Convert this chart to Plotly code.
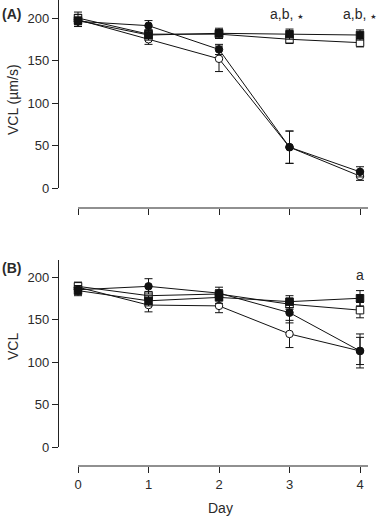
import plotly.graph_objects as go

days = [0, 1, 2, 3, 4]
x_ticks = ["0", "1", "2", "3", "4"]
y_ticks = [0, 50, 100, 150, 200]

# Panel A
a_sq_fill = [197, 180, 182, 181, 180]
a_sq_fill_err = [7, 6, 6, 6, 6]
a_sq_open = [200, 181, 181, 175, 171]
a_sq_open_err = [7, 5, 5, 5, 5]
a_ci_fill = [196, 191, 163, 48, 19]
a_ci_fill_err = [6, 6, 6, 19, 6]
a_ci_open = [198, 175, 152, 48, 14]
a_ci_open_err = [6, 6, 15, 19, 5]

# Panel B
b_sq_fill = [184, 172, 176, 171, 175]
b_sq_fill_err = [6, 6, 7, 7, 9]
b_sq_open = [189, 178, 180, 168, 161]
b_sq_open_err = [5, 5, 5, 6, 9]
b_ci_fill = [185, 189, 181, 158, 113]
b_ci_fill_err = [5, 9, 7, 12, 20]
b_ci_open = [188, 167, 166, 133, 113]
b_ci_open_err = [5, 8, 8, 16, 16]

W, H = 378, 517
FONT = "Liberation Sans, Arial, sans-serif"
TXT = "#2a2a2a"

def py(px):
    return 1 - px / H

def px_x(px):
    return px / W

fig = go.Figure()

def add_series(y, err, symbol, fill, xa, ya):
    fig.add_trace(go.Scatter(
        x=days, y=y, mode="lines+markers",
        line=dict(color="#111111", width=1),
        marker=dict(symbol=symbol, size=7.5, color=fill,
                    line=dict(color="#111111", width=1)),
        error_y=dict(type="data", array=err, visible=True,
                     color="#111111", thickness=1, width=4),
        xaxis=xa, yaxis=ya, showlegend=False, cliponaxis=False,
    ))

for (y, e, s, f) in [
    (a_ci_open, a_ci_open_err, "circle", "white"),
    (a_ci_fill, a_ci_fill_err, "circle", "#111111"),
    (a_sq_open, a_sq_open_err, "square", "white"),
    (a_sq_fill, a_sq_fill_err, "square", "#111111"),
]:
    add_series(y, e, s, f, "x", "y")

for (y, e, s, f) in [
    (b_ci_open, b_ci_open_err, "circle", "white"),
    (b_sq_open, b_sq_open_err, "square", "white"),
    (b_sq_fill, b_sq_fill_err, "square", "#111111"),
    (b_ci_fill, b_ci_fill_err, "circle", "#111111"),
]:
    add_series(y, e, s, f, "x2", "y2")

# geometry
x_left_px, x_right_px = 58, 372
day0_px, day_step = 78, 70.5
x_range = [(x_left_px - day0_px) / day_step, (x_right_px - day0_px) / day_step]
x_line_end = (368 - day0_px) / day_step

axis_common = dict(
    showgrid=False, zeroline=False, ticks="outside", ticklen=6,
    tickwidth=1, tickcolor="#222222", linecolor="#222222", linewidth=1.2,
    tickfont=dict(family=FONT, size=13, color=TXT), automargin=False,
)

fig.update_layout(
    width=W, height=H,
    margin=dict(l=0, r=0, t=0, b=0, pad=0, autoexpand=False),
    paper_bgcolor="white", plot_bgcolor="white",
    xaxis=dict(domain=[px_x(x_left_px), px_x(x_right_px)], range=x_range,
               anchor="free", position=py(208), showline=False,
               tickvals=days, ticktext=["", "", "", "", ""], **axis_common),
    yaxis=dict(domain=[py(188), py(0)], range=[0, 221.2], anchor="free",
               position=px_x(x_left_px), showline=True,
               tickvals=y_ticks, **axis_common),
    xaxis2=dict(domain=[px_x(x_left_px), px_x(x_right_px)], range=x_range,
                anchor="free", position=py(466), showline=False,
                tickvals=days, ticktext=x_ticks, **axis_common),
    yaxis2=dict(domain=[py(447), py(260)], range=[0, 220], anchor="free",
                position=px_x(x_left_px), showline=True,
                tickvals=y_ticks, **axis_common),
)

# detached x axis baselines
for yref_px in (208, 466):
    fig.add_shape(type="line", xref="x", yref="paper",
                  x0=0, x1=x_line_end, y0=py(yref_px), y1=py(yref_px),
                  line=dict(color="#222222", width=1.2))

ann = dict(showarrow=False, yanchor="middle",
           font=dict(family=FONT, size=14, color=TXT))
star = "a,b, <span style='font-family:DejaVu Sans;font-size:7px'>★</span>"
fig.add_annotation(x=0, y=py(14), xref="paper", yref="paper", xanchor="left",
                   text="<b>(A)</b>", **ann)
fig.add_annotation(x=0, y=py(268), xref="paper", yref="paper", xanchor="left",
                   text="<b>(B)</b>", **ann)
fig.add_annotation(x=px_x(13), y=py(100), xref="paper", yref="paper",
                   xanchor="center", textangle=-90, text="VCL (µm/s)", **ann)
fig.add_annotation(x=px_x(13), y=py(347), xref="paper", yref="paper",
                   xanchor="center", textangle=-90, text="VCL", **ann)
fig.add_annotation(x=px_x(220), y=py(508), xref="paper", yref="paper",
                   xanchor="center", text="Day", **ann)
fig.add_annotation(x=3, y=py(14), xref="x", yref="paper", xanchor="center",
                   xshift=-3, text=star, **ann)
fig.add_annotation(x=4, y=py(14), xref="x", yref="paper", xanchor="center",
                   text=star, **ann)
fig.add_annotation(x=4, y=py(275), xref="x2", yref="paper", xanchor="center",
                   text="a", **ann)

fig.write_html("out.html",
               config={"displayModeBar": False},
               post_script="document.body.style.margin='0';"
                           "document.body.style.overflow='hidden';")
